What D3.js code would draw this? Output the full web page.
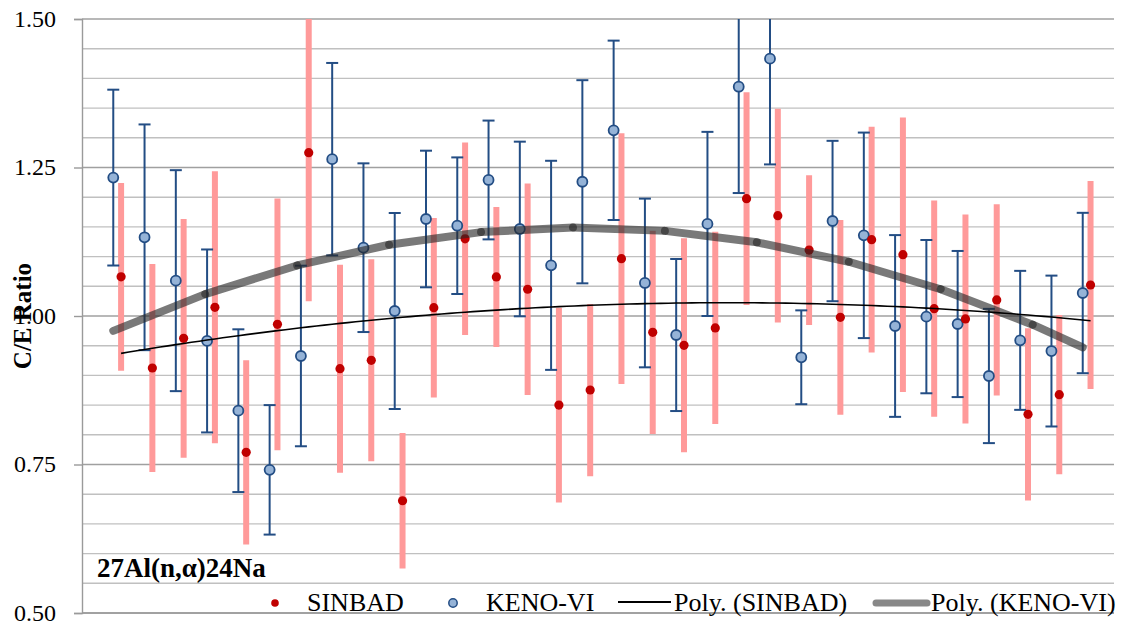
<!DOCTYPE html>
<html><head><meta charset="utf-8">
<script src="https://cdn.jsdelivr.net/npm/d3@7"></script>
</head>
<body style="margin:0">
<svg id="c" width="1129" height="627" style="display:block"></svg>
<script>
// ---------- data ----------
const sampleIndex = d3.range(1, 33); // 32 measurement positions
const kenoValues = [1.233,1.1325,1.0595,0.958,0.8406,0.741,0.9327,1.264,1.115,1.0084,1.1633,1.152,1.229,1.1465,1.0853,1.226,1.3126,1.0556,0.968,1.155,1.386,1.4332,0.9305,1.1599,1.1358,0.9832,0.9989,0.9865,0.899,0.959,0.941,1.0387];
const kenoErrors = [0.148,0.19,0.186,0.154,0.137,0.109,0.152,0.162,0.142,0.165,0.115,0.115,0.100,0.147,0.176,0.171,0.151,0.142,0.128,0.155,0.179,0.178,0.079,0.135,0.173,0.153,0.129,0.123,0.113,0.117,0.127,0.135];
const sinbadValues = [1.066,0.9125,0.9625,1.0146,0.7705,0.986,1.275,0.9113,0.9254,0.689,1.014,1.130,1.0657,1.045,0.850,0.8754,1.0965,0.9725,0.9507,0.980,1.1975,1.1689,1.111,0.9978,1.1285,1.1032,1.0123,0.995,1.027,0.8345,0.8675,1.0522];
const sinbadErrors = [0.158,0.175,0.201,0.229,0.155,0.212,0.25,0.175,0.170,0.114,0.151,0.162,0.118,0.178,0.164,0.145,0.211,0.171,0.180,0.162,0.179,0.180,0.126,0.164,0.190,0.231,0.182,0.176,0.161,0.145,0.134,0.175];
const yTickValues = [0.50, 0.75, 1.00, 1.25, 1.50];
const seriesNames = ["SINBAD", "KENO-VI", "Poly. (SINBAD)", "Poly. (KENO-VI)"];
const chartTitle = "27Al(n,\u03b1)24Na";
const yAxisTitle = "C/E Ratio";

// ---------- layout ----------
const FONT = '"Times New Roman"';
const svg = d3.select("#c");
const L = 82, R = 1114, T = 19, B = 613;
const sinbadShift = 0.25;
const x = d3.scaleLinear().domain([0, 33]).range([L, R]);
const y = d3.scaleLinear().domain([0.5, 1.5]).range([B, T]).clamp(true);

// gridlines
const gridVals = d3.range(0, 21).map(i => 0.5 + i*0.05);
svg.append("g").selectAll("line").data(gridVals).join("line")
  .attr("x1", L).attr("x2", R)
  .attr("y1", d => y(d)).attr("y2", d => y(d))
  .attr("stroke", d => (Math.abs((d*4) - Math.round(d*4)) < 1e-6) ? "#a0a0a0" : "#c0c0c0")
  .attr("stroke-width", 1.4);

// y axis (line + ticks from d3 axis, labels as own text)
const yAxis = svg.append("g").attr("transform", `translate(${L},0)`)
  .call(d3.axisLeft(y).tickValues(yTickValues).tickFormat("").tickSize(8));
yAxis.select(".domain").attr("stroke", "#9a9a9a").attr("stroke-width", 1.4);
yAxis.selectAll(".tick line").attr("stroke", "#9a9a9a").attr("stroke-width", 1.4);
yAxis.selectAll(".tick text").remove();
svg.selectAll("text.ytl").data(yTickValues).join("text").attr("class", "ytl")
  .attr("x", 56).attr("y", d => y(d)).attr("dy", "0.33em")
  .attr("text-anchor", "end").attr("font-size", 24).attr("font-family", FONT).attr("fill", "#000")
  .text(d3.format(".2f"));

// x axis line
svg.append("line").attr("x1", L).attr("x2", R).attr("y1", B).attr("y2", B)
  .attr("stroke", "#9a9a9a").attr("stroke-width", 1.4);

const sinbad = sampleIndex.map((s, i) => ({x: s + sinbadShift, v: sinbadValues[i], e: sinbadErrors[i]}));
const keno = sampleIndex.map((s, i) => ({x: s, v: kenoValues[i], e: kenoErrors[i]}));

// SINBAD error bars (thick pink), clamped to the plot
svg.append("g").selectAll("line").data(sinbad).join("line")
  .attr("x1", d => x(d.x)).attr("x2", d => x(d.x))
  .attr("y1", d => y(d.v + d.e)).attr("y2", d => y(d.v - d.e))
  .attr("stroke", "#ff9a9a").attr("stroke-width", 6);

// KENO error bars with caps (caps outside the plot are not drawn)
const inside = v => v <= 1.5 && v >= 0.5;
const kb = svg.append("g").attr("stroke", "#234d84").attr("stroke-width", 2).attr("fill", "none");
kb.selectAll("line.v").data(keno).join("line").attr("class","v")
  .attr("x1", d => x(d.x)).attr("x2", d => x(d.x))
  .attr("y1", d => y(d.v + d.e)).attr("y2", d => y(d.v - d.e));
kb.selectAll("line.t").data(keno.filter(d => inside(d.v + d.e))).join("line").attr("class","t")
  .attr("x1", d => x(d.x) - 6).attr("x2", d => x(d.x) + 6)
  .attr("y1", d => y(d.v + d.e)).attr("y2", d => y(d.v + d.e));
kb.selectAll("line.b").data(keno.filter(d => inside(d.v - d.e))).join("line").attr("class","b")
  .attr("x1", d => x(d.x) - 6).attr("x2", d => x(d.x) + 6)
  .attr("y1", d => y(d.v - d.e)).attr("y2", d => y(d.v - d.e));

// KENO markers
svg.append("g").selectAll("circle").data(keno).join("circle")
  .attr("cx", d => x(d.x)).attr("cy", d => y(d.v)).attr("r", 5)
  .attr("fill", "#95b3d7").attr("stroke", "#234d84").attr("stroke-width", 1.8);

// SINBAD markers
svg.append("g").selectAll("circle").data(sinbad).join("circle")
  .attr("cx", d => x(d.x)).attr("cy", d => y(d.v)).attr("r", 4.6)
  .attr("fill", "#c00000");

// ---------- polynomial (order 2) trendlines: least squares fit ----------
function polyFit2(pts) {
  let S = [0,0,0,0,0], Ty = [0,0,0];
  pts.forEach(p => {
    for (let k = 0; k < 5; k++) S[k] += Math.pow(p.x, k);
    for (let k = 0; k < 3; k++) Ty[k] += p.v * Math.pow(p.x, k);
  });
  const A = [[S[0],S[1],S[2],Ty[0]],[S[1],S[2],S[3],Ty[1]],[S[2],S[3],S[4],Ty[2]]];
  for (let i = 0; i < 3; i++) {
    let m = i; for (let r = i+1; r < 3; r++) if (Math.abs(A[r][i]) > Math.abs(A[m][i])) m = r;
    [A[i], A[m]] = [A[m], A[i]];
    for (let r = 0; r < 3; r++) if (r !== i) {
      const f = A[r][i] / A[i][i];
      for (let c = i; c < 4; c++) A[r][c] -= f * A[i][c];
    }
  }
  const c = [A[0][3]/A[0][0], A[1][3]/A[1][1], A[2][3]/A[2][2]];
  return t => c[0] + c[1]*t + c[2]*t*t;
}
function samplePts(f, x0, x1, step) {
  const out = [];
  for (let t = x0; t < x1 - 1e-9; t += step) out.push([t, f(t)]);
  out.push([x1, f(x1)]);
  return out;
}

// KENO trendline: thick translucent gray, drawn as overlapping segments
const fK = polyFit2(keno);
const kPts = samplePts(fK, keno[0].x, keno[keno.length-1].x, 2.94);
svg.append("g").selectAll("line").data(d3.pairs(kPts)).join("line")
  .attr("x1", d => x(d[0][0])).attr("y1", d => y(d[0][1]))
  .attr("x2", d => x(d[1][0])).attr("y2", d => y(d[1][1]))
  .attr("stroke", "#262626").attr("stroke-opacity", 0.62)
  .attr("stroke-width", 8).attr("stroke-linecap", "round");

// SINBAD trendline: thin black
const fS = polyFit2(sinbad);
const sPts = samplePts(fS, sinbad[0].x, sinbad[sinbad.length-1].x, 0.25);
svg.append("path").datum(sPts)
  .attr("d", d3.line().x(d => x(d[0])).y(d => y(d[1])))
  .attr("fill", "none").attr("stroke", "#000").attr("stroke-width", 1.6);

// ---------- titles ----------
svg.append("text").attr("x", 97).attr("y", 577).attr("font-family", FONT)
  .attr("font-size", 27).attr("font-weight", "bold").attr("fill", "#000")
  .text(chartTitle);

svg.append("text").attr("transform", "translate(31,316) rotate(-90)").attr("font-family", FONT)
  .attr("text-anchor", "middle").attr("font-size", 25).attr("font-weight", "bold").attr("fill", "#000")
  .text(yAxisTitle);

// ---------- legend ----------
const ly = 603, lb = 611;
svg.append("circle").attr("cx", 275).attr("cy", ly).attr("r", 3.8).attr("fill", "#c00000");
svg.append("circle").attr("cx", 453).attr("cy", ly).attr("r", 4.2)
  .attr("fill", "#95b3d7").attr("stroke", "#234d84").attr("stroke-width", 1.5);
svg.append("line").attr("x1", 618).attr("x2", 671).attr("y1", ly-1).attr("y2", ly-1)
  .attr("stroke", "#000").attr("stroke-width", 1.8);
svg.append("line").attr("x1", 876).attr("x2", 927).attr("y1", ly).attr("y2", ly)
  .attr("stroke", "#262626").attr("stroke-opacity", 0.55).attr("stroke-width", 7).attr("stroke-linecap", "round");
const legendX = [307, 486, 674, 931];
svg.selectAll("text.lg").data(seriesNames).join("text").attr("class", "lg")
  .attr("x", (d, i) => legendX[i]).attr("y", lb)
  .attr("font-size", 26).attr("font-family", FONT).attr("fill", "#000")
  .text(d => d);
</script>
</body></html>
